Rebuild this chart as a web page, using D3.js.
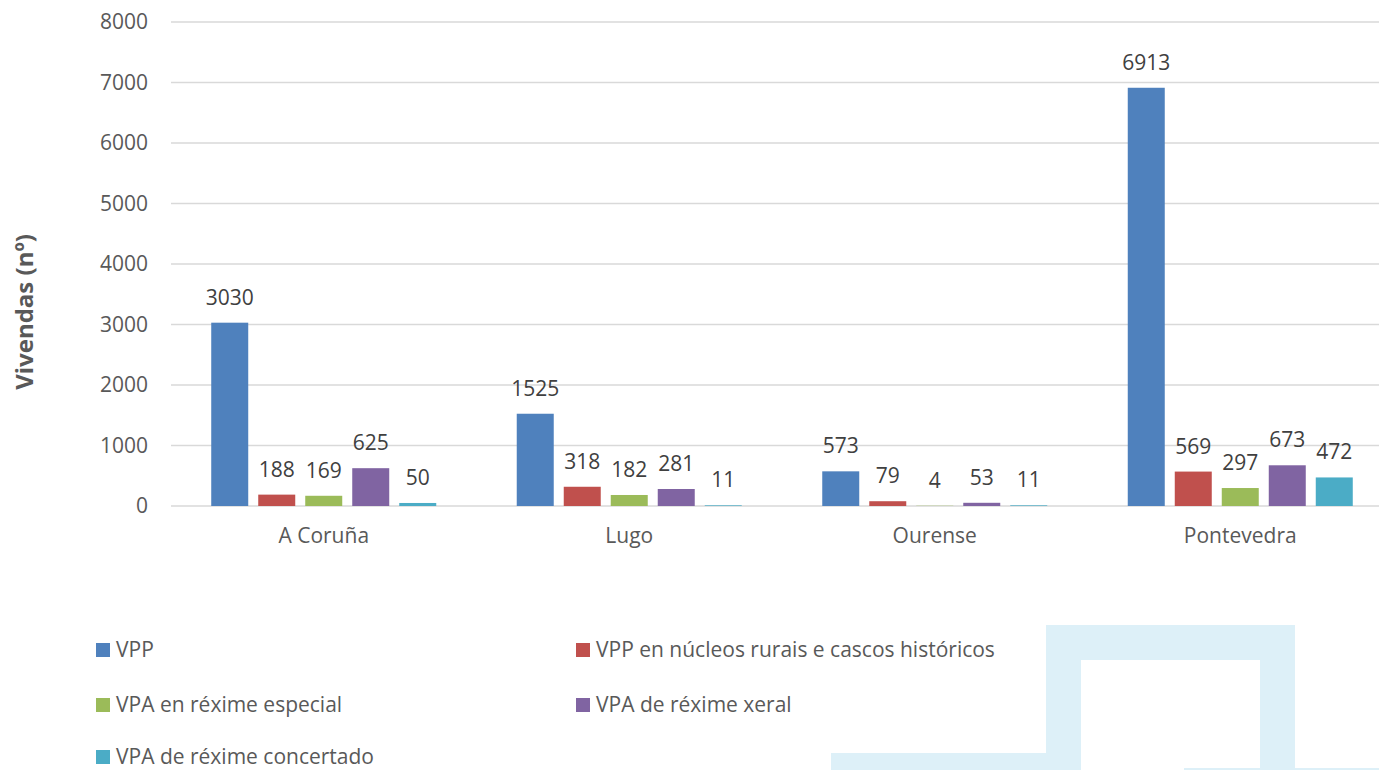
<!DOCTYPE html>
<html>
<head>
<meta charset="utf-8">
<script src="https://cdn.jsdelivr.net/npm/d3@7"></script>
<style>
  body { margin: 0; background: #fff; }
  text { font-family: "Open Sans", "Noto Sans", sans-serif; }
</style>
</head>
<body>
<div id="chart-area"></div>
<script>
// data
const provinces = ["A Coruña", "Lugo", "Ourense", "Pontevedra"];
const seriesNames = [
  "VPP",
  "VPP en núcleos rurais e cascos históricos",
  "VPA en réxime especial",
  "VPA de réxime xeral",
  "VPA de réxime concertado"
];
const vpp = [3030, 1525, 573, 6913];
const vppRural = [188, 318, 79, 569];
const vpaEspecial = [169, 182, 4, 297];
const vpaXeral = [625, 281, 53, 673];
const vpaConcertado = [50, 11, 11, 472];
const yTicks = [0, 1000, 2000, 3000, 4000, 5000, 6000, 7000, 8000];

const colors = ["#4F81BD", "#C0504D", "#9BBB59", "#8064A2", "#4BACC6"];
const allSeries = [vpp, vppRural, vpaEspecial, vpaXeral, vpaConcertado];

const WIDTH = 1379, HEIGHT = 770;
const FONT = "21px";

const svg = d3.select("#chart-area").append("svg")
  .attr("width", WIDTH)
  .attr("height", HEIGHT);

// decorative light blue shape at the bottom right
const deco = svg.append("g").attr("fill", "#ddf0f8");
deco.append("rect").attr("x", 1046).attr("y", 625).attr("width", 249).attr("height", 35);
deco.append("rect").attr("x", 1046).attr("y", 625).attr("width", 35).attr("height", 145);
deco.append("rect").attr("x", 1260).attr("y", 625).attr("width", 35).attr("height", 145);
deco.append("rect").attr("x", 831).attr("y", 753).attr("width", 215).attr("height", 17);
deco.append("rect").attr("x", 1184).attr("y", 768).attr("width", 195).attr("height", 2);

const x0 = d3.scaleBand()
  .domain(provinces)
  .range([171, 1393])
  .paddingInner(0.2635)
  .paddingOuter(0.1317);

const x1 = d3.scaleBand()
  .domain(seriesNames)
  .range([0, x0.bandwidth()])
  .paddingInner(0.2128)
  .paddingOuter(0);

const y = d3.scaleLinear()
  .domain([0, 8000])
  .range([506, 22]);

// gridlines
svg.append("g")
  .selectAll("line")
  .data(yTicks)
  .join("line")
  .attr("x1", 171)
  .attr("x2", WIDTH)
  .attr("y1", d => y(d))
  .attr("y2", d => y(d))
  .attr("stroke", "#d9d9d9")
  .attr("stroke-width", 1.5);

// y axis
const yAxis = svg.append("g")
  .attr("transform", "translate(171,0)")
  .call(d3.axisLeft(y).tickValues(yTicks).tickFormat(d3.format("d")).tickSize(0).tickPadding(23));
yAxis.select(".domain").remove();
yAxis.selectAll("text")
  .attr("font-size", FONT)
  .attr("fill", "#595959")
  .style("font-family", "'Open Sans', sans-serif");

// x axis
const xAxis = svg.append("g")
  .attr("transform", "translate(0,506)")
  .call(d3.axisBottom(x0).tickSize(0).tickPadding(22));
xAxis.select(".domain").remove();
xAxis.selectAll("text")
  .attr("font-size", FONT)
  .attr("fill", "#595959")
  .style("font-family", "'Open Sans', sans-serif");

// y title
svg.append("text")
  .attr("transform", "translate(33,312) rotate(-90)")
  .attr("text-anchor", "middle")
  .attr("font-size", "24px")
  .attr("font-weight", "bold")
  .attr("fill", "#595959")
  .text("Vivendas (nº)");

// bars
const rows = provinces.map((p, i) => ({
  province: p,
  values: seriesNames.map((s, j) => ({ series: s, value: allSeries[j][i], color: colors[j] }))
}));

const groups = svg.append("g")
  .selectAll("g")
  .data(rows)
  .join("g")
  .attr("transform", d => `translate(${x0(d.province)},0)`);

groups.selectAll("rect")
  .data(d => d.values)
  .join("rect")
  .attr("x", d => x1(d.series))
  .attr("y", d => y(d.value))
  .attr("width", x1.bandwidth())
  .attr("height", d => y(0) - y(d.value))
  .attr("fill", d => d.color);

groups.selectAll("text")
  .data(d => d.values)
  .join("text")
  .attr("x", d => x1(d.series) + x1.bandwidth() / 2)
  .attr("y", d => y(d.value) - 18)
  .attr("text-anchor", "middle")
  .attr("font-size", FONT)
  .attr("fill", "#404040")
  .text(d => d.value);

// legend
const legendPos = [
  [96, 650], [576, 650],
  [96, 705], [576, 705],
  [96, 757]
];
const legend = svg.append("g");
seriesNames.forEach((name, i) => {
  const row = legend.append("g")
    .attr("transform", `translate(${legendPos[i][0]},${legendPos[i][1]})`);
  row.append("rect")
    .attr("x", 0)
    .attr("y", -7)
    .attr("width", 14)
    .attr("height", 14)
    .attr("fill", colors[i]);
  row.append("text")
    .attr("x", 20)
    .attr("y", 7)
    .attr("font-size", FONT)
    .attr("fill", "#595959")
    .text(name);
});
</script>
</body>
</html>
